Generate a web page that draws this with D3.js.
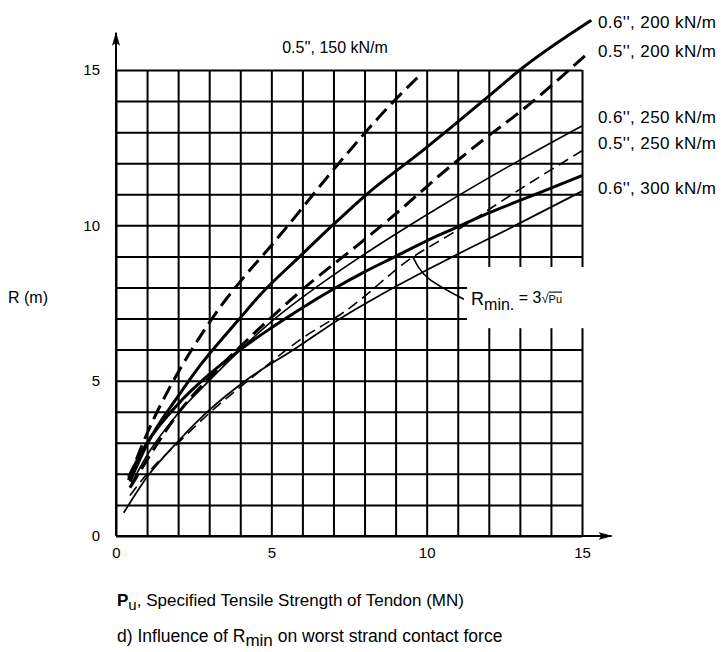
<!DOCTYPE html>
<html>
<head>
<meta charset="utf-8">
<script src="https://cdnjs.cloudflare.com/ajax/libs/d3/7.8.5/d3.min.js"></script>
<style>
body { margin: 0; background: #fff; }
svg { display: block; font-family: "Liberation Sans", Arial, Helvetica, sans-serif; }
.grid line { stroke: #000; stroke-width: 2; }
.grid .domain { display: none; }
.curve { fill: none; stroke: #000; stroke-linecap: butt; }
.ticks text { font-size: 15px; fill: #000; }
</style>
</head>
<body>
<svg id="chart" width="727" height="652"></svg>
<script>
// tick labels
var axisTicks = [0, 5, 10, 15];

// curves: Pu (MN) against R (m)
var pu05_150 = [0.4, 1.0, 1.74, 2.17, 2.7, 3.4, 4.31, 5.0, 5.5, 6.9, 8.9, 9.85];
var r05_150  = [1.8, 3.3, 4.8, 5.56, 6.41, 7.43, 8.56, 9.35, 9.95, 11.67, 13.95, 14.9];

var pu06_200 = [0.45, 1, 2, 2.6, 3.08, 3.94, 4.63, 5.92, 6.99, 8.07, 9.89, 10.75, 11.93, 13.0, 15.3];
var r06_200  = [1.75, 2.95, 4.5, 5.35, 5.95, 6.95, 7.75, 9.0, 10.02, 11.0, 12.42, 13.12, 14.1, 15.0, 16.6];

var pu05_200 = [0.45, 1, 2, 3.24, 4.53, 6.14, 7.85, 9.03, 10.43, 11.82, 13.0, 15.2];
var r05_200  = [1.55, 2.45, 3.95, 5.34, 6.6, 8.05, 9.42, 10.39, 11.62, 12.75, 13.65, 15.55];

var pu06_250 = [0.45, 1, 2, 3, 5, 7, 8.5, 10.43, 13.0, 15];
var r06_250  = [1.6, 2.6, 3.95, 5.0, 6.9, 8.4, 9.4, 10.6, 12.1, 13.2];

var puRmin = [0.4, 1, 2, 3, 4, 5, 6, 7, 8, 9, 10, 11, 12, 13, 14, 15];
var rRmin  = [1.9, 3.0, 4.25, 5.2, 6.0, 6.7, 7.35, 7.95, 8.5, 9.0, 9.5, 9.95, 10.4, 10.8, 11.2, 11.6];

var pu05_250 = [0.45, 1, 2, 3, 4.5, 5.9, 7.4, 9.57, 10.75, 13.22, 15];
var r05_250  = [1.3, 2.0, 3.0, 3.95, 5.2, 6.3, 7.25, 8.99, 9.7, 11.3, 12.4];

var pu06_300 = [0.25, 1, 2, 3, 4.1, 5.8, 7.3, 8.5, 10.43, 13, 15];
var r06_300  = [0.75, 1.9, 3.05, 4.05, 4.95, 6.05, 7.05, 7.75, 8.78, 10.07, 11.1];

var curveLabels = ["0.6'', 200 kN/m", "0.5'', 200 kN/m", "0.6'', 250 kN/m", "0.5'', 250 kN/m", "0.6'', 300 kN/m"];
var topLabel = "0.5'', 150 kN/m";

var chart = d3.select("#chart");
var x = d3.scaleLinear().domain([0, 15]).range([116, 582]);
var y = d3.scaleLinear().domain([0, 15]).range([536, 70]);

// grid: one line per MN and per metre
chart.append("g").attr("class", "grid")
	.attr("transform", "translate(0," + y(0) + ")")
	.call(d3.axisBottom(x).tickValues(d3.range(0, 16)).tickSize(y(15) - y(0)).tickFormat(""));
chart.append("g").attr("class", "grid")
	.attr("transform", "translate(" + x(0) + ",0)")
	.call(d3.axisLeft(y).tickValues(d3.range(0, 16)).tickSize(x(0) - x(15)).tickFormat(""));

// arrow heads for the axes
chart.append("defs").append("marker").attr("id", "arrow")
	.attr("viewBox", "0 0 14 8").attr("refX", 13).attr("refY", 4)
	.attr("markerWidth", 14).attr("markerHeight", 8).attr("markerUnits", "userSpaceOnUse")
	.attr("orient", "auto")
	.append("path").attr("d", "M0,0 L14,4 L0,8 L3,4 Z").attr("fill", "#000");
chart.append("line").attr("x1", x(0)).attr("y1", y(0)).attr("x2", x(0)).attr("y2", y(16.2))
	.attr("stroke", "#000").attr("stroke-width", 2).attr("marker-end", "url(#arrow)");
chart.append("line").attr("x1", x(0)).attr("y1", y(0)).attr("x2", x(15.95)).attr("y2", y(0))
	.attr("stroke", "#000").attr("stroke-width", 2).attr("marker-end", "url(#arrow)");

// tick labels
var yl = chart.append("g").attr("class", "ticks").attr("transform", "translate(" + x(0) + ",0)")
	.call(d3.axisLeft(y).tickValues(axisTicks).tickSize(0).tickPadding(16));
yl.select(".domain").remove();
var xl = chart.append("g").attr("class", "ticks").attr("transform", "translate(0," + y(0) + ")")
	.call(d3.axisBottom(x).tickValues(axisTicks).tickSize(0).tickPadding(11));
xl.select(".domain").remove();
chart.selectAll(".ticks text").attr("font-family", null).attr("font-size", null);

// curves
var line = d3.line().x(function(d) {return x(d[0]);}).y(function(d) {return y(d[1]);}).curve(d3.curveMonotoneX);
var curves = [
	{pu: pu05_150, r: r05_150, w: 3, dash: "15,7"},
	{pu: pu06_200, r: r06_200, w: 3, dash: null},
	{pu: pu05_200, r: r05_200, w: 3, dash: "15,7"},
	{pu: pu06_250, r: r06_250, w: 1.6, dash: null},
	{pu: puRmin, r: rRmin, w: 3, dash: null},
	{pu: pu05_250, r: r05_250, w: 1.6, dash: "11,6"},
	{pu: pu06_300, r: r06_300, w: 1.8, dash: null}
];

// white patch behind the Rmin note (covers the grid there)
chart.append("rect").attr("x", x(11.3)).attr("y", y(8.66))
	.attr("width", x(15.15) - x(11.3)).attr("height", y(6.69) - y(8.66)).attr("fill", "#fff");

chart.selectAll("path.curve").data(curves).enter().append("path").attr("class", "curve")
	.attr("d", function(c) {return line(c.pu.map(function(p, i) {return [p, c.r[i]];}));})
	.attr("stroke-width", function(c) {return c.w;})
	.attr("stroke-dasharray", function(c) {return c.dash;});

// leader to the Rmin curve
chart.append("path").attr("class", "curve").attr("stroke-width", 1.6)
	.attr("d", d3.line().x(function(d) {return x(d[0]);}).y(function(d) {return y(d[1]);}).curve(d3.curveNatural)([[9.55, 9.0], [10.05, 8.3], [11.2, 7.62]]));

var note = chart.append("text").attr("x", x(11.43)).attr("y", y(7.45)).attr("font-size", 18);
note.append("tspan").text("R");
note.append("tspan").attr("font-size", 16).attr("dy", 5).text("min.");
note.append("tspan").attr("font-size", 16).attr("dy", -7).text(" = 3");
note.append("tspan").attr("font-size", 13).text("\u221A");
note.append("tspan").attr("font-size", 11).attr("text-decoration", "overline").text("Pu");

// labels
chart.append("text").attr("x", 335).attr("y", 53).attr("text-anchor", "middle").attr("font-size", 16).text(topLabel);
var labelY = [28, 57, 123, 149, 194];
chart.selectAll("text.rlabel").data(curveLabels).enter().append("text").attr("class", "rlabel")
	.attr("x", 598).attr("y", function(d, i) {return labelY[i];}).attr("font-size", 17)
	.attr("letter-spacing", 0.4).text(function(d) {return d;});

chart.append("text").attr("x", 8).attr("y", 303).attr("font-size", 16).text("R (m)");

var xt = chart.append("text").attr("x", 117).attr("y", 606).attr("font-size", 17);
xt.append("tspan").attr("font-weight", "bold").text("P");
xt.append("tspan").attr("dy", 4).attr("font-size", 15).text("u");
xt.append("tspan").attr("dy", -4).text(", Specified Tensile Strength of Tendon (MN)");

var cap = chart.append("text").attr("x", 117).attr("y", 642).attr("font-size", 17.5);
cap.append("tspan").text("d) Influence of R");
cap.append("tspan").attr("dy", 4).attr("font-size", 17).text("min");
cap.append("tspan").attr("dy", -4).text(" on worst strand contact force");
</script>
</body>
</html>
